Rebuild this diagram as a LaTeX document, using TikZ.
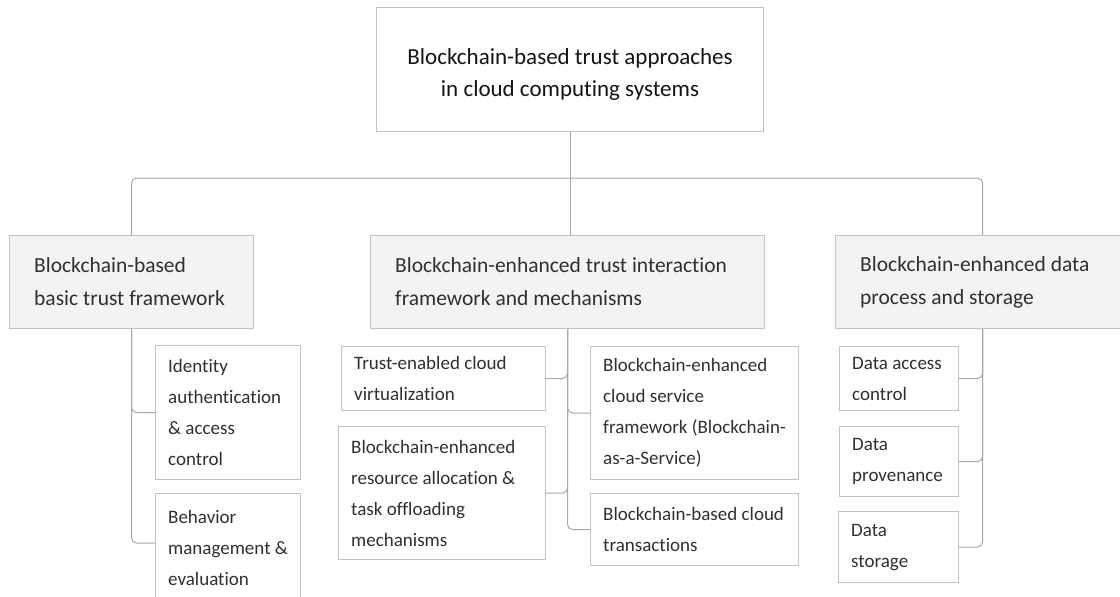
\documentclass[tikz,border=0pt]{standalone}
\usepackage{fontspec}
\setmainfont{Carlito}[Ligatures=NoCommon]
\definecolor{boxline}{HTML}{C2C2C2}
\definecolor{connline}{HTML}{A8A8A8}
\definecolor{parentfill}{HTML}{F3F3F3}
\definecolor{bodytext}{HTML}{303030}
\definecolor{roottext}{HTML}{141414}

% #1 kind (parent/child), #2 name, #3 left, #4 top, #5 width, #6 height, #7 text
\newcommand\trustbox[7]{%
  \node[#1box, minimum width=#5pt, minimum height=#6pt] (#2) at (#3,#4) {};
  \node[#1label] (#2-t) at (#2.west) {#7};
}

\begin{document}
\begin{tikzpicture}[x=1pt, y=-1pt,
  basebox/.style={draw=boxline, line width=1.1pt, inner sep=0pt, anchor=north west},
  parentbox/.style={basebox, fill=parentfill},
  childbox/.style={basebox, fill=white},
  parentlabel/.style={anchor=west, xshift=25pt, inner sep=0pt, align=left,
    text=bodytext, font=\fontsize{21.5}{33}\selectfont},
  childlabel/.style={anchor=west, xshift=13pt, inner sep=0pt, align=left,
    text=bodytext, font=\fontsize{19}{31}\selectfont},
  rootbox/.style={basebox, fill=white},
  rootlabel/.style={inner sep=0pt, align=center, text=roottext,
    font=\fontsize{23}{32}\selectfont},
  conn/.style={draw=connline, line width=1pt, rounded corners=5pt},
]
\useasboundingbox (0,0) rectangle (1120,597);

% root
\node[rootbox, minimum width=387pt, minimum height=124pt] (root) at (376,7) {};
\node[rootlabel, yshift=-5pt] (root-t) at (root.center)
  {Blockchain-based trust approaches\\in cloud computing systems};

% first level
\trustbox{parent}{basic}{9}{235}{244}{93}{Blockchain-based\\basic trust framework}
\trustbox{parent}{inter}{370}{235}{394}{93}{Blockchain-enhanced trust interaction\\framework and mechanisms}
\trustbox{parent}{data}{835}{235}{294}{93}{Blockchain-enhanced data\\process and storage}

% second level: basic trust framework
\trustbox{child}{ident}{155}{345}{145}{134}{Identity\\authentication\\\& access\\control}
\trustbox{child}{behav}{155}{493}{145}{108}{Behavior\\management \&\\evaluation}

% second level: trust interaction
\trustbox{child}{virt}{341}{346}{204}{64}{Trust-enabled cloud\\virtualization}
\trustbox{child}{alloc}{338}{426}{207}{133}{Blockchain-enhanced\\resource allocation \&\\task offloading\\mechanisms}
\trustbox{child}{baas}{590}{346}{208}{133}{Blockchain-enhanced\\cloud service\\framework (Blockchain-\\as-a-Service)}
\trustbox{child}{trans}{590}{493}{208}{72}{Blockchain-based cloud\\transactions}

% second level: data process and storage
\trustbox{child}{dac}{839}{346}{119}{64}{Data access\\control}
\trustbox{child}{prov}{839}{426}{119}{70}{Data\\provenance}
\trustbox{child}{store}{838}{511}{120}{71}{Data\\storage}

% connectors from the root
\coordinate (bus) at (569,178);
\draw[conn] (root.south) -- (root.south |- inter.north);
\draw[conn] (basic.north) |- (bus) -| (data.north);

% connectors of the basic trust framework
\draw[conn] (basic.south) |- (ident.west);
\draw[conn] (basic.south) |- ([yshift=-50pt]behav.north west);

% connectors of the trust interaction framework
\draw[conn] (inter.south) |- (virt.east);
\draw[conn] (inter.south) |- (alloc.east);
\draw[conn] (inter.south) |- (baas.west);
\draw[conn] (inter.south) |- (trans.west);

% connectors of data process and storage
\draw[conn] (data.south) |- (dac.east);
\draw[conn] (data.south) |- (prov.east);
\draw[conn] (data.south) |- (store.east);
\end{tikzpicture}
\end{document}
